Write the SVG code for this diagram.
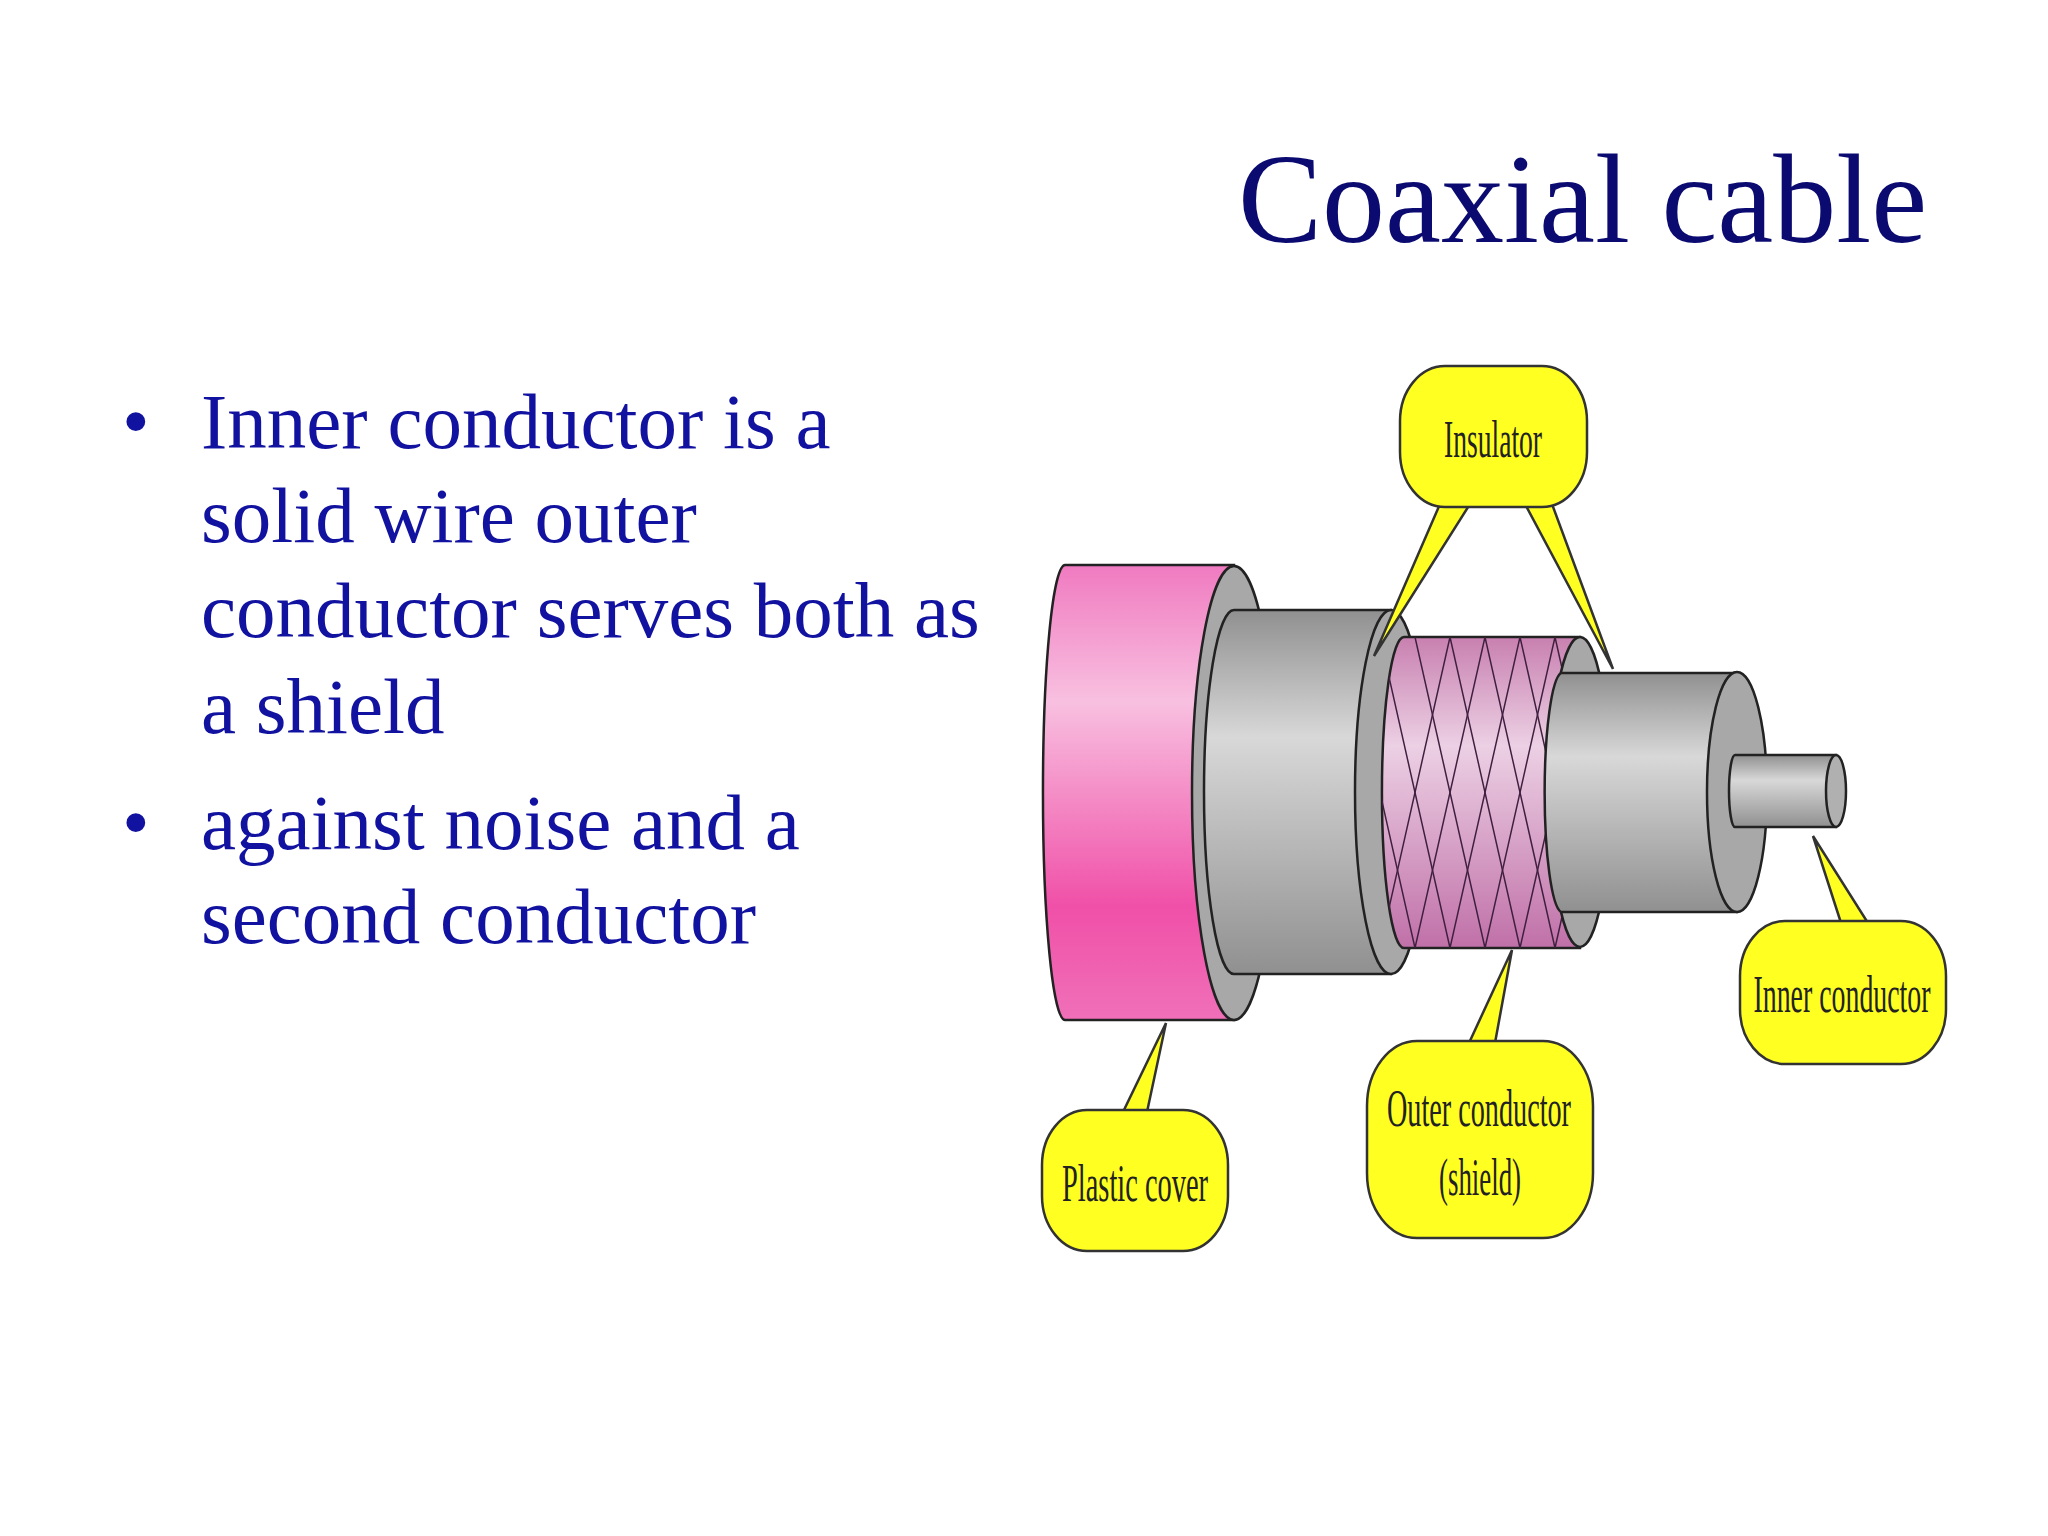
<svg xmlns="http://www.w3.org/2000/svg" width="2048" height="1536" viewBox="0 0 2048 1536">
<defs>
<linearGradient id="pink" x1="0" y1="0" x2="0" y2="1"><stop offset="0" stop-color="#f07ac0"/><stop offset="0.3" stop-color="#f8c0e0"/><stop offset="0.75" stop-color="#f050a8"/><stop offset="1" stop-color="#f070b8"/></linearGradient>
<linearGradient id="mesh" x1="0" y1="0" x2="0" y2="1"><stop offset="0" stop-color="#c880b0"/><stop offset="0.35" stop-color="#ecd0e4"/><stop offset="1" stop-color="#c070a8"/></linearGradient>
<linearGradient id="gray" x1="0" y1="0" x2="0" y2="1"><stop offset="0" stop-color="#909090"/><stop offset="0.35" stop-color="#d8d8d8"/><stop offset="1" stop-color="#909090"/></linearGradient>
<clipPath id="mc"><path d="M1404 637 H1580 V948 H1404 A22 155 0 0 1 1404 637 Z"/></clipPath>
</defs>
<style>
.t{font-family:"Liberation Serif",serif;}
.b{fill:#1212a0;font-size:79px;}
.s{stroke:#222;stroke-width:2.5;}
.lab{fill:#ffff22;stroke:#333;stroke-width:2.5;}
.lt{font-family:"Liberation Serif",serif;font-size:52px;fill:#222;}
</style>
<rect width="2048" height="1536" fill="#fff"/>
<text class="t" x="1238" y="242" font-size="126" fill="#0a0a70">Coaxial cable</text>
<g id="bullets" class="t b">
<text x="122" y="448">•</text><text x="201" y="448">Inner conductor is a</text>
<text x="201" y="542">solid wire outer</text>
<text x="201" y="637">conductor serves both as</text>
<text x="201" y="733">a shield</text>
<text x="122" y="849">•</text><text x="201" y="849">against noise and a</text>
<text x="201" y="943">second conductor</text>
</g>
<g id="cable">
<g id="plastic">
<path class="s" d="M1065 565 H1234 V1020 H1065 A22 227 0 0 1 1065 565 Z" fill="url(#pink)"/>
<ellipse class="s" cx="1234" cy="793" rx="42" ry="227" fill="#a8a8a8"/>
</g>
<g id="outerlayer">
<path class="s" d="M1234 610 H1391 V974 H1234 A30 182 0 0 1 1234 610 Z" fill="url(#gray)"/>
<ellipse class="s" cx="1391" cy="792" rx="36" ry="182" fill="#a8a8a8"/>
</g>
<g id="shield">
<path class="s" d="M1404 637 H1580 V948 H1404 A22 155 0 0 1 1404 637 Z" fill="url(#mesh)"/>
<g clip-path="url(#mc)" stroke="#402040" stroke-width="1.5" fill="none">
<path d="M1380 637 l70 311 M1415 637 l70 311 M1450 637 l70 311 M1485 637 l70 311 M1520 637 l70 311 M1555 637 l70 311 M1345 637 l70 311 M1310 637 l70 311"/>
<path d="M1450 637 l-70 311 M1485 637 l-70 311 M1520 637 l-70 311 M1555 637 l-70 311 M1590 637 l-70 311 M1625 637 l-70 311 M1660 637 l-70 311"/>
</g>
<ellipse class="s" cx="1580" cy="792" rx="30" ry="155" fill="#a8a8a8"/>
</g>
<g id="insulator">
<path class="s" d="M1561 673 H1737 V912 H1561 A18 120 0 0 1 1561 673 Z" fill="url(#gray)"/>
<ellipse class="s" cx="1737" cy="792" rx="30" ry="120" fill="#a8a8a8"/>
</g>
<g id="inner">
<path class="s" d="M1735 755 H1836 V827 H1735 A6 36 0 0 1 1735 755 Z" fill="url(#gray)"/>
<ellipse class="s" cx="1836" cy="791" rx="10" ry="36" fill="#b0b0b0"/>
</g>
</g>
<g id="connectors">
<polygon class="lab" points="1440,504 1470,504 1374,656"/>
<polygon class="lab" points="1525,504 1552,504 1613,669"/>
<polygon class="lab" points="1123,1112 1147,1112 1166,1023"/>
<polygon class="lab" points="1469,1043 1495,1043 1512,950"/>
<polygon class="lab" points="1841,923 1868,923 1813,836"/>
</g>
<g id="label-insulator"><rect class="lab" x="1400" y="366" width="187" height="141" rx="45" ry="55"/><text class="lt" x="1493" y="457" text-anchor="middle" textLength="98" lengthAdjust="spacingAndGlyphs">Insulator</text></g>
<g id="label-plastic"><rect class="lab" x="1042" y="1110" width="186" height="141" rx="45" ry="55"/><text class="lt" x="1135" y="1201" text-anchor="middle" textLength="146" lengthAdjust="spacingAndGlyphs">Plastic cover</text></g>
<g id="label-outer"><rect class="lab" x="1367" y="1041" width="226" height="197" rx="50" ry="65"/><text class="lt" x="1479" y="1126" text-anchor="middle" textLength="184" lengthAdjust="spacingAndGlyphs">Outer conductor</text><text class="lt" x="1480" y="1195" text-anchor="middle" textLength="82" lengthAdjust="spacingAndGlyphs">(shield)</text></g>
<g id="label-inner"><rect class="lab" x="1740" y="921" width="206" height="143" rx="45" ry="55"/><text class="lt" x="1842" y="1012" text-anchor="middle" textLength="177" lengthAdjust="spacingAndGlyphs">Inner conductor</text></g>
</svg>
